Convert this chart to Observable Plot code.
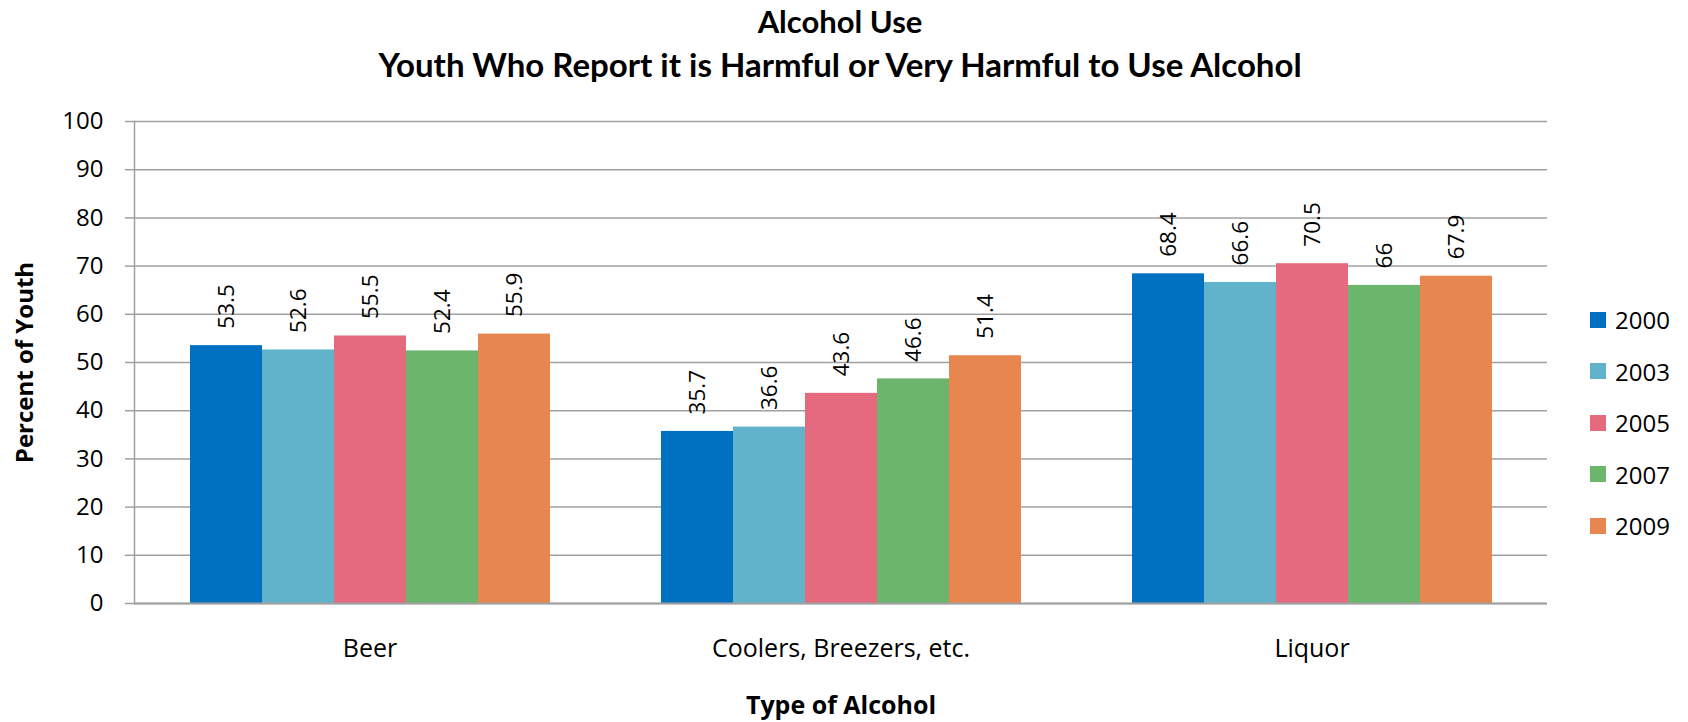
<!DOCTYPE html>
<html>
<head>
<meta charset="utf-8">
<script src="https://cdn.jsdelivr.net/npm/d3@7"></script>
<script src="https://cdn.jsdelivr.net/npm/@observablehq/plot@0.6"></script>
<style>
  html, body { margin: 0; padding: 0; background: #fff; }
  #wrap { position: relative; width: 1688px; height: 722px; overflow: hidden; font-family: "Open Sans", sans-serif; }
  #title { position: absolute; left: 0; top: 0; width: 1680px; text-align: center; font-family: Lato, sans-serif; font-weight: bold; font-size: 33px; line-height: 43px; color: #000; }
  #title .l1 { font-size: 31px; }
  #legend { position: absolute; left: 1590px; top: 294px; font-family: "Open Sans", sans-serif; font-size: 24px; color: #000; }
  .lg-row { display: flex; align-items: center; height: 51.5px; }
  .lg-sw { width: 16px; height: 16px; margin-right: 9px; }
  g[aria-label="y-axis label"] text, g[aria-label="fx-axis label"] text { font-weight: bold; }
</style>
</head>
<body>
<div id="wrap">
  <div id="title"></div>
  <div id="chart"></div>
  <div id="legend"></div>
</div>
<script>
const titleLines = ["Alcohol Use", "Youth Who Report it is Harmful or Very Harmful to Use Alcohol"];
const categories = ["Beer", "Coolers, Breezers, etc.", "Liquor"];
const years = ["2000", "2003", "2005", "2007", "2009"];
const colors = ["#0070C0", "#60B3CB", "#E56A7E", "#6BB56C", "#E7864F"];
const beer = [53.5, 52.6, 55.5, 52.4, 55.9];
const coolers = [35.7, 36.6, 43.6, 46.6, 51.4];
const liquor = [68.4, 66.6, 70.5, 66, 67.9];
const yTicks = [0, 10, 20, 30, 40, 50, 60, 70, 80, 90, 100];
const yLabel = "Percent of Youth";
const xLabel = "Type of Alcohol";

const seriesByCat = [beer, coolers, liquor];
const data = [];
categories.forEach((c, i) => years.forEach((y, j) => data.push({cat: c, year: y, value: seriesByCat[i][j]})));

document.getElementById("title").innerHTML = titleLines.map((t, i) => `<div class="l${i + 1}">${t}</div>`).join("");

const grey = "#a0a0a0";
const chart = Plot.plot({
  width: 1688,
  height: 722,
  marginLeft: 133,
  marginRight: 140,
  marginTop: 121,
  marginBottom: 119,
  style: {fontFamily: "Open Sans, sans-serif", fontSize: "24px", color: "#000", background: "transparent", overflow: "visible"},
  fx: {domain: categories, padding: 0, label: xLabel},
  x: {domain: years, axis: null, paddingInner: 0, paddingOuter: 0.76},
  y: {domain: [0, 100], label: yLabel},
  color: {domain: years, range: colors},
  marks: [
    Plot.gridY(yTicks, {stroke: grey, strokeOpacity: 1, strokeWidth: 1.5}),
    Plot.barY(data, {fx: "cat", x: "year", y: "value", fill: "year"}),
    Plot.ruleY([0], {stroke: grey, strokeWidth: 2}),
    Plot.frame({anchor: "left", stroke: grey, strokeWidth: 1.5, facet: "super"}),
    Plot.axisY(yTicks, {anchor: "left", tickSize: 9, tickPadding: 22, stroke: grey, strokeWidth: 1.5, fontSize: 24,
      label: yLabel, labelAnchor: "center", labelOffset: 119, labelArrow: "none"}),
    Plot.axisFx({anchor: "bottom", tickSize: 0, tickPadding: 36, fontSize: 25,
      label: xLabel, labelAnchor: "center", labelOffset: 110, labelArrow: "none"}),
    Plot.text(data, {fx: "cat", x: "year", y: "value", text: d => String(d.value), rotate: -90,
      textAnchor: "start", lineAnchor: "middle", dy: -17, fontSize: 22.5, fill: "#000"})
  ]
});
document.getElementById("chart").appendChild(chart);

const legend = document.getElementById("legend");
years.forEach((y, i) => {
  const row = document.createElement("div");
  row.className = "lg-row";
  row.innerHTML = `<div class="lg-sw" style="background:${colors[i]}"></div><span>${y}</span>`;
  legend.appendChild(row);
});
</script>
</body>
</html>
